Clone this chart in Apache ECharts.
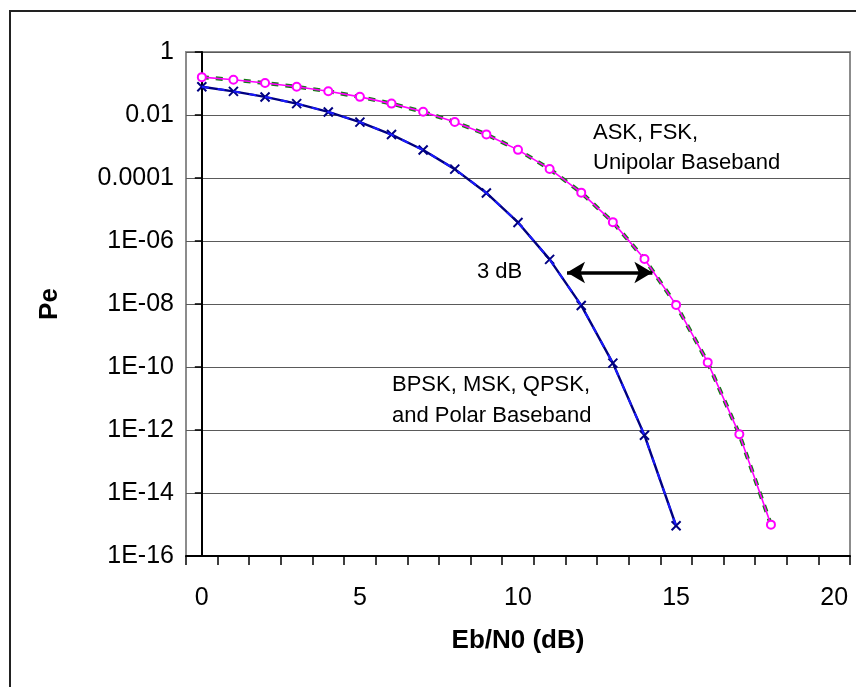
<!DOCTYPE html>
<html>
<head>
<meta charset="utf-8">
<script src="https://cdn.jsdelivr.net/npm/echarts@6/dist/echarts.min.js"></script>
<style>
  html, body { margin: 0; padding: 0; background: #fff; }
  #chart { width: 856px; height: 687px; }
</style>
</head>
<body>
<div id="chart"></div>
<script>
// Eb/N0 categories (dB)
const ebn0 = ['0','1','2','3','4','5','6','7','8','9','10','11','12','13','14','15','16','17','18','19','20'];

// Bit error probability, coherent antipodal signalling (BPSK, MSK, QPSK, polar baseband)
const pePolar = [0.0786, 0.0563, 0.0375, 0.0229, 0.0125, 0.00595, 0.00239, 7.73e-4, 1.91e-4,
                 3.36e-5, 3.87e-6, 2.61e-7, 9.01e-9, 1.33e-10, 6.81e-13, 9.12e-16];

// Bit error probability, orthogonal / on-off signalling (ASK, FSK, unipolar baseband)
const peUnipolar = [0.159, 0.131, 0.104, 0.0789, 0.0565, 0.0377, 0.0230, 0.0126, 0.0060,
                    0.00242, 7.83e-4, 1.94e-4, 3.43e-5, 3.97e-6, 2.69e-7, 9.38e-9, 1.40e-10,
                    7.3e-13, 9.9e-16];

// Y-axis tick labels, from 1E-16 up to 1, one per two decades
const yTickLabels = ['1E-16', '1E-14', '1E-12', '1E-10', '1E-08', '1E-06', '0.0001', '0.01', '1'];

// The 3 dB gap annotation: from the polar curve to the unipolar curve at Pe = 1e-7
const gapArrow = { from: 11.55, to: 14.25, pe: 1e-7 };

const FONT = 'Liberation Sans, Arial, sans-serif';

const chart = echarts.init(document.getElementById('chart'), null, { renderer: 'canvas' });

const crossPath = 'path://M0,0 L10,10 M10,0 L0,10';

chart.setOption({
  animation: false,
  backgroundColor: '#ffffff',
  grid: {
    left: 186, top: 52, right: 6, bottom: 131,
    show: true, borderColor: '#8c8c8c', borderWidth: 2, backgroundColor: 'transparent'
  },
  xAxis: [{
    type: 'category',
    data: ebn0,
    boundaryGap: true,
    name: 'Eb/N0 (dB)',
    nameLocation: 'middle',
    nameGap: 72,
    nameTextStyle: { fontFamily: FONT, fontSize: 26, fontWeight: 'bold', color: '#000' },
    axisLine: { lineStyle: { color: '#000', width: 2 } },
    axisTick: { show: true, interval: 0, length: 9, lineStyle: { color: '#000', width: 1.5 } },
    axisLabel: { interval: 4, margin: 30, fontFamily: FONT, fontSize: 25, color: '#000' },
    splitLine: { show: false }
  }, {
    // hidden linear companion axis used to place the gap arrow
    type: 'value', show: false, min: -0.5, max: 20.5
  }],
  yAxis: {
    type: 'log',
    logBase: 10,
    min: 1e-16,
    max: 1,
    interval: 2,
    name: 'Pe',
    nameLocation: 'middle',
    nameGap: 123,
    nameRotate: 90,
    nameTextStyle: { fontFamily: FONT, fontSize: 26, fontWeight: 'bold', color: '#000' },
    axisLine: { show: true, lineStyle: { color: '#000', width: 2 } },
    axisTick: { show: true, length: 7, lineStyle: { color: '#000', width: 1.5 } },
    minorTick: { show: false },
    axisLabel: {
      margin: 12, fontFamily: FONT, fontSize: 25, color: '#000',
      formatter: function (v) {
        const e = Math.round(Math.log10(v));
        const idx = (e + 16) / 2;
        return yTickLabels[idx] !== undefined ? yTickLabels[idx] : '';
      }
    },
    splitLine: { show: true, lineStyle: { color: '#5a5a5a', width: 1.2 } }
  },
  series: [
    {
      name: 'Unipolar theory',
      type: 'line',
      data: peUnipolar,
      symbol: 'none',
      lineStyle: { color: '#157a15', width: 4, type: [7, 7] },
      z: 2
    },
    {
      name: 'ASK, FSK, Unipolar Baseband',
      type: 'line',
      data: peUnipolar,
      symbol: 'emptyCircle',
      symbolSize: 8,
      itemStyle: { color: '#ff00ff', borderColor: '#ff00ff', borderWidth: 1.6 },
      lineStyle: { color: '#ff00ff', width: 1.6 },
      z: 3
    },
    {
      name: 'BPSK, MSK, QPSK, and Polar Baseband',
      type: 'line',
      data: pePolar,
      symbol: crossPath,
      symbolSize: 9,
      itemStyle: { color: '#000080', borderColor: '#000080', borderWidth: 2 },
      lineStyle: { color: '#000080', width: 2.4 },
      z: 3
    },
    {
      name: 'Polar theory',
      type: 'line',
      data: pePolar,
      symbol: 'none',
      lineStyle: { color: '#1a1aff', width: 2, type: [7, 9] },
      z: 4
    },
    {
      name: 'gap',
      type: 'line',
      xAxisIndex: 1,
      data: [],
      symbol: 'none',
      silent: true,
      markLine: {
        silent: true,
        symbol: ['arrow', 'arrow'],
        symbolSize: [16, 18],
        label: { show: false },
        lineStyle: { color: '#000', width: 3.5, type: 'solid' },
        data: [[
          { coord: [gapArrow.from, gapArrow.pe] },
          { coord: [gapArrow.to, gapArrow.pe] }
        ]]
      }
    }
  ],
  graphic: [
    {
      type: 'rect',
      shape: { x: 10, y: 11, width: 900, height: 720 },
      style: { fill: 'none', stroke: '#222', lineWidth: 2 },
      silent: true, z: -1
    },
    {
      type: 'text', left: 593, top: 118,
      style: { text: 'ASK, FSK,\nUnipolar Baseband', font: '22px ' + FONT, fill: '#000', lineHeight: 30 }
    },
    {
      type: 'text', left: 477, top: 261,
      style: { text: '3 dB', font: '22px ' + FONT, fill: '#000' }
    },
    {
      type: 'text', left: 392, top: 369,
      style: { text: 'BPSK, MSK, QPSK,\nand Polar Baseband', font: '22px ' + FONT, fill: '#000', lineHeight: 31 }
    }
  ]
});
</script>
</body>
</html>
